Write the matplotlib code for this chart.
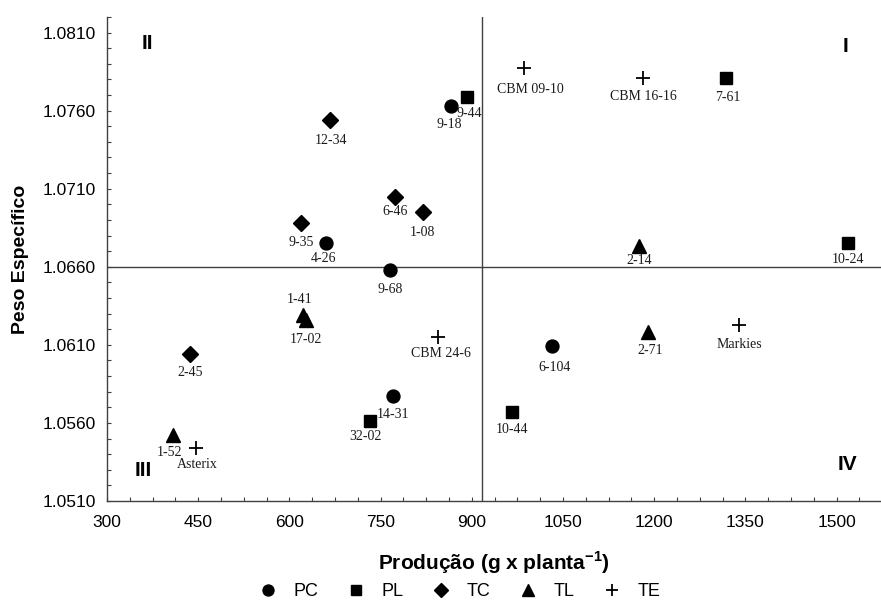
import matplotlib
matplotlib.use("Agg")
import numpy as np
import matplotlib.pyplot as plt
from matplotlib.ticker import MultipleLocator, FixedLocator, FormatStrFormatter
from matplotlib.lines import Line2D

# ---- data: yield (g per plant) vs specific gravity, by group ----
pc_names = ["9-18", "4-26", "9-68", "14-31", "6-104"]
pc_x = [865, 660, 766, 771, 1032]
pc_y = [1.0763, 1.0675, 1.0658, 1.0577, 1.0609]

pl_names = ["9-44", "7-61", "10-24", "32-02", "10-44"]
pl_x = [892, 1318, 1519, 733, 966]
pl_y = [1.0769, 1.0781, 1.0675, 1.0561, 1.0567]

tc_names = ["12-34", "6-46", "1-08", "9-35", "2-45"]
tc_x = [666, 773, 819, 619, 436]
tc_y = [1.0754, 1.0705, 1.0695, 1.0688, 1.0604]

tl_names = ["1-41", "17-02", "2-14", "2-71", "1-52"]
tl_x = [622, 627, 1175, 1189, 409]
tl_y = [1.0629, 1.0626, 1.0673, 1.0618, 1.0552]

te_names = ["CBM 09-10", "CBM 16-16", "CBM 24-6", "Markies", "Asterix"]
te_x = [985, 1182, 845, 1339, 446]
te_y = [1.0787, 1.0781, 1.0615, 1.0623, 1.0544]

group_labels = ["PC", "PL", "TC", "TL", "TE"]
y_ticks = [1.0510, 1.0560, 1.0610, 1.0660, 1.0710, 1.0760, 1.0810]
x_ref = 916      # vertical reference line (yield)
y_ref = 1.0660   # horizontal reference line (specific gravity)
quadrants = ["I", "II", "III", "IV"]

# ---- label placement (offsets in points from each marker) ----
label_offsets = {
    "12-34": (1, -15), "9-44": (2, -12), "9-18": (-1, -13.7), "6-46": (0, -10.8),
    "1-08": (0, -14.4), "9-35": (0, -13.7), "4-26": (-1.4, -10.8), "9-68": (0, -14.4),
    "1-41": (-2.4, 11.3), "17-02": (0, -14.4), "2-45": (0, -13.5), "CBM 24-6": (2, -12),
    "14-31": (0, -12.7), "32-02": (-3.6, -11.2), "1-52": (-2.4, -12), "Asterix": (1.2, -12),
    "CBM 09-10": (4.8, -15), "CBM 16-16": (0, -13.7), "7-61": (1.2, -14.4),
    "2-14": (0, -10.3), "10-24": (0, -11.5), "6-104": (1.7, -15), "2-71": (2, -12.7),
    "Markies": (0.7, -14.2), "10-44": (0, -12.7),
}

sans = ["Liberation Sans", "DejaVu Sans"]
serif = ["Liberation Serif", "DejaVu Serif"]

fig = plt.figure(figsize=(8.81, 6.02), dpi=100)
ax = fig.add_axes([0.1215, 0.1678, 0.8785, 0.804])

ax.set_xlim(300, 1573)
ax.set_ylim(1.0510, 1.0820)

# reference lines splitting the plane into quadrants
ax.axvline(x_ref, color="#404040", lw=1.0, zorder=1)
ax.axhline(y_ref, color="#404040", lw=1.0, zorder=1)

groups = [
    (pc_names, pc_x, pc_y, dict(marker="o", markersize=9.3)),
    (pl_names, pl_x, pl_y, dict(marker="s", markersize=9)),
    (tc_names, tc_x, tc_y, dict(marker="D", markersize=7.8)),
    (tl_names, tl_x, tl_y, dict(marker="^", markersize=9.5)),
    (te_names, te_x, te_y, dict(marker="+", markersize=9.5, markeredgewidth=1.3)),
]

handles = []
for (names, xs, ys, style), glabel in zip(groups, group_labels):
    ax.plot(xs, ys, linestyle="none", color="black", zorder=3, **style)
    for name, x, y in zip(names, xs, ys):
        ax.annotate(name, (x, y), xytext=label_offsets[name], textcoords="offset points",
                    ha="center", va="center", fontsize=10, family=serif,
                    color="#1e1a1a", zorder=4)
    hstyle = dict(style)
    hstyle["markersize"] = style["markersize"] * 0.85
    handles.append(Line2D([], [], linestyle="none", color="black", label=glabel, **hstyle))

# quadrant numerals
quad_pos = {"I": (1514, 1.0801), "II": (367, 1.0803), "III": (359, 1.05295), "IV": (1518, 1.05334)}
for q in quadrants:
    qx, qy = quad_pos[q]
    ax.text(qx, qy, q, ha="center", va="center", fontsize=15, fontweight="bold",
            family=sans, color="black")

# axes styling
for side in ("top", "right"):
    ax.spines[side].set_visible(False)
for side in ("left", "bottom"):
    ax.spines[side].set_color("#404040")
    ax.spines[side].set_linewidth(1.0)

ax.xaxis.set_major_locator(MultipleLocator(150))
ax.xaxis.set_minor_locator(MultipleLocator(37.5))
ax.yaxis.set_major_locator(FixedLocator(y_ticks))
ax.yaxis.set_minor_locator(FixedLocator(np.round(np.arange(1.0510, 1.0821, 0.001), 4)))
ax.yaxis.set_major_formatter(FormatStrFormatter("%.4f"))
ax.tick_params(which="both", direction="in", length=3, width=0.8, color="#404040")
ax.tick_params(axis="x", which="major", pad=10, labelsize=12.5)
ax.tick_params(axis="y", which="major", pad=8, labelsize=12.5)
for lab in ax.get_xticklabels() + ax.get_yticklabels():
    lab.set_family(sans)

ax.set_xlabel("Produção (g x planta$^{\\mathregular{-1}}$)", fontsize=15, fontweight="bold",
              family=sans, labelpad=14)
ax.set_ylabel("Peso Específico", fontsize=14, fontweight="bold", family=sans, labelpad=10)

fig.legend(handles=handles, loc="center", bbox_to_anchor=(0.522, 0.017), ncol=5,
           frameon=False, prop={"family": sans, "size": 13}, handlelength=1.0,
           handletextpad=0.9, columnspacing=1.6, borderaxespad=0)

fig.savefig("out.png", dpi=100)
